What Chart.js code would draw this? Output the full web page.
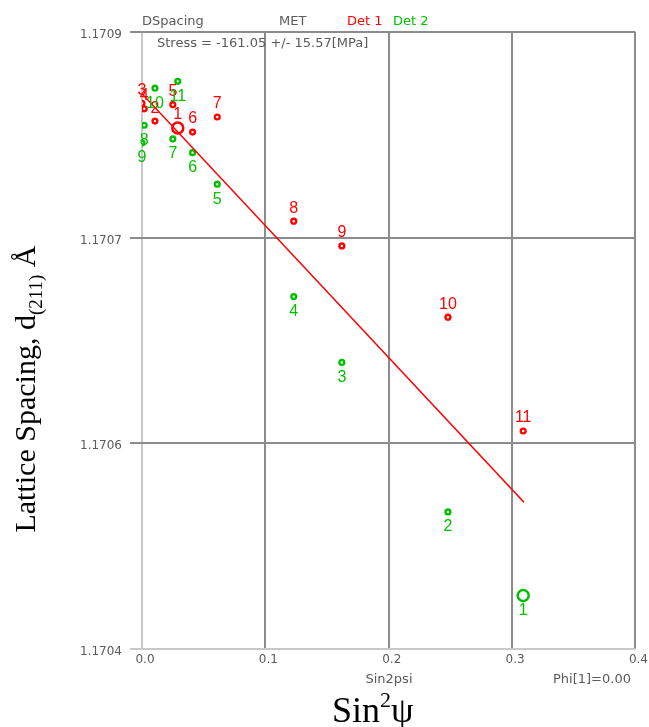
<!DOCTYPE html>
<html>
<head>
<meta charset="utf-8">
<script src="https://cdn.jsdelivr.net/npm/chart.js@4"></script>
<style>
  html, body { margin: 0; padding: 0; background: #fff; }
  #wrap { width: 649px; height: 727px; }
</style>
</head>
<body>
<div id="wrap"><canvas id="chart" width="649" height="727"></canvas></div>
<script>
// sin^2(psi) positions and d-spacing values
const det1X = [0.029, 0.0105, 0.0, 0.0018, 0.025, 0.041, 0.061, 0.123, 0.162, 0.248, 0.309];
const det1Y = [1.170780, 1.170785, 1.170798, 1.170794, 1.170797, 1.170777, 1.170788, 1.170712, 1.170694, 1.170642, 1.170559];
const det2X = [0.309, 0.248, 0.162, 0.123, 0.061, 0.041, 0.025, 0.0018, 0.0, 0.0105, 0.029];
const det2Y = [1.170439, 1.170500, 1.170609, 1.170657, 1.170739, 1.170762, 1.170772, 1.170782, 1.170769, 1.170809, 1.170814];
const fitX = [0.0, 0.3096];
const fitY = [1.170805, 1.170507];

const xTickValues = [0, 0.1, 0.2, 0.3, 0.4];
const xTickLabels = ['0.0', '0.1', '0.2', '0.3', '0.4'];
const yTickValues = [1.1704, 1.17055, 1.1707, 1.17085];
const yTickLabels = ['1.1704', '1.1706', '1.1707', '1.1709'];

const RED = '#ff0000';
const GREEN = '#00c000';
const GREY_TXT = '#5a5a5a';

const toPoints = (xs, ys) => xs.map((x, i) => ({ x: x, y: ys[i] }));

// numbers next to each point, plus the header / axis titles
const annotate = {
    id: 'annotate',
    afterDatasetsDraw(chart) {
        const ctx = chart.ctx;
        ctx.save();
        ctx.font = '16px "Liberation Sans", sans-serif';
        ctx.textAlign = 'center';
        ctx.textBaseline = 'middle';
        chart.data.datasets.forEach((ds, di) => {
            if (!ds.labelSide) return;
            const meta = chart.getDatasetMeta(di);
            ctx.fillStyle = ds.borderColor;
            meta.data.forEach((pt, i) => {
                const dy = ds.labelSide === 'above' ? -13 : 15;
                ctx.fillText(String(i + 1), pt.x, pt.y + dy);
            });
        });
        ctx.restore();
    },
    afterDraw(chart) {
        const ctx = chart.ctx;
        ctx.save();
        ctx.textBaseline = 'alphabetic';
        ctx.textAlign = 'left';
        ctx.font = '13px "DejaVu Sans", sans-serif';
        ctx.fillStyle = GREY_TXT;
        ctx.fillText('DSpacing', 142, 25);
        ctx.fillText('MET', 279, 25);
        ctx.fillStyle = RED;
        ctx.fillText('Det 1', 347, 25);
        ctx.fillStyle = GREEN;
        ctx.fillText('Det 2', 393, 25);
        ctx.fillStyle = GREY_TXT;
        ctx.fillText('Stress = -161.05 +/- 15.57[MPa]', 157, 47);
        ctx.textAlign = 'center';
        ctx.fillText('Sin2psi', 389, 683);
        ctx.textAlign = 'left';
        ctx.fillText('Phi[1]=0.00', 553, 683);

        // x title: Sin^2 psi
        ctx.fillStyle = '#000';
        ctx.font = '36px "Liberation Serif", serif';
        let x = 332;
        ctx.fillText('Sin', x, 722);
        x += ctx.measureText('Sin').width;
        ctx.font = '22px "Liberation Serif", serif';
        ctx.fillText('2', x, 707);
        x += ctx.measureText('2').width;
        ctx.font = '36px "Liberation Serif", serif';
        ctx.fillText('\u03C8', x, 722);

        // y title, rotated
        ctx.translate(35, 389);
        ctx.rotate(-Math.PI / 2);
        const big = '30px "Liberation Serif", serif';
        const small = '19px "Liberation Serif", serif';
        const parts = [
            ['Lattice Spacing, d', big, 0],
            ['(211)', small, 7],
            [' \u00C5', big, 0]
        ];
        let total = 0;
        parts.forEach(p => { ctx.font = p[1]; total += ctx.measureText(p[0]).width; });
        let px = -total / 2;
        parts.forEach(p => {
            ctx.font = p[1];
            ctx.fillText(p[0], px, p[2]);
            px += ctx.measureText(p[0]).width;
        });
        ctx.restore();
    }
};

const gridColor = (ctx) => ctx.index === 0 ? '#c8c8c8' : '#8c8c8c';

new Chart(document.getElementById('chart'), {
    type: 'scatter',
    data: {
        datasets: [
            {
                label: 'Fit',
                type: 'line',
                data: toPoints(fitX, fitY),
                borderColor: RED,
                borderWidth: 1.6,
                pointRadius: 0,
                fill: false
            },
            {
                label: 'Det 1',
                data: toPoints(det1X, det1Y),
                borderColor: RED,
                backgroundColor: '#fff',
                pointRadius: (c) => c.dataIndex === 0 ? 5.5 : 2.4,
                pointBorderWidth: (c) => c.dataIndex === 0 ? 2.5 : 2.4,
                labelSide: 'above'
            },
            {
                label: 'Det 2',
                data: toPoints(det2X, det2Y),
                borderColor: GREEN,
                backgroundColor: '#fff',
                pointRadius: (c) => c.dataIndex === 0 ? 5.5 : 2.4,
                pointBorderWidth: (c) => c.dataIndex === 0 ? 2.5 : 2.4,
                labelSide: 'below'
            }
        ]
    },
    options: {
        responsive: false,
        animation: false,
        layout: { padding: { left: 0, right: 13, top: 32, bottom: 0 } },
        plugins: {
            legend: { display: false },
            tooltip: { enabled: false }
        },
        scales: {
            x: {
                type: 'linear',
                min: 0,
                max: 0.4,
                afterBuildTicks: (s) => { s.ticks = xTickValues.map(v => ({ value: v })); },
                afterFit: (s) => { s.height = 78; },
                border: { display: false },
                grid: { color: gridColor, lineWidth: 2, drawTicks: false },
                ticks: {
                    padding: 4,
                    labelOffset: 3,
                    color: GREY_TXT,
                    font: { family: 'DejaVu Sans', size: 12 },
                    maxRotation: 0,
                    callback: (v, i) => xTickLabels[i]
                }
            },
            y: {
                type: 'linear',
                min: 1.1704,
                max: 1.17085,
                afterBuildTicks: (s) => { s.ticks = yTickValues.map(v => ({ value: v })); },
                afterFit: (s) => { s.width = 142; },
                border: { display: false },
                grid: { color: gridColor, lineWidth: 2, tickLength: 12 },
                ticks: {
                    padding: 8,
                    labelOffset: 3,
                    color: GREY_TXT,
                    font: { family: 'DejaVu Sans', size: 12 },
                    callback: (v, i) => yTickLabels[i]
                }
            }
        }
    },
    plugins: [annotate]
});
</script>
</body>
</html>
